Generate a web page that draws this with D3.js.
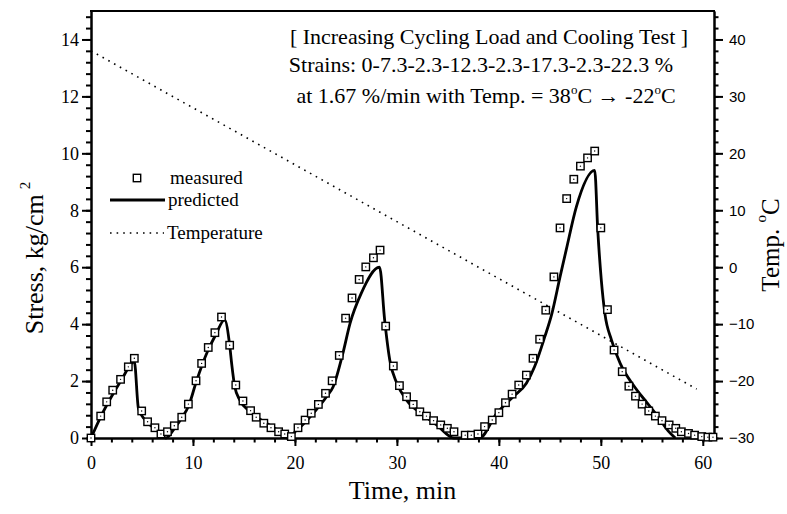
<!DOCTYPE html>
<html lang="en">
<head>
  <meta charset="UTF-8">
  <title>Increasing Cycling Load and Cooling Test</title>
  <style>
    body { margin: 0; background: #fff; }
    .axis path, .axis line { stroke: #000; stroke-width: 2px; }
    .axis .minor line { stroke-width: 1.8px; }
    .serif text { font-family: "Liberation Serif", "Times New Roman", serif; font-size: 18px; fill: #000; }
    .sans text { font-family: "Liberation Sans", Arial, sans-serif; font-size: 15px; fill: #000; }
    .label { font-family: "Liberation Serif", "Times New Roman", serif; fill: #000; }
  </style>
  <script src="https://d3js.org/d3.v7.min.js"></script>
</head>
<body>
<div id="chart"></div>
<script>
  // measured stress (open squares)
  var measTime = [0, 0.95, 1.54, 2.13, 2.9, 3.66, 4.25, 4.97, 5.55, 6.27, 6.86, 7.5, 8.17, 8.9, 9.55,
    10.3, 10.85, 11.5, 12.15, 12.8, 13.6, 14.2, 14.9, 15.65, 16.2, 16.95, 17.65, 18.4, 19.0, 19.65,
    20.3, 21.0, 21.6, 22.3, 23.0, 23.65, 24.35, 24.97, 25.6, 26.3, 26.95, 27.7, 28.35, 28.9, 29.65,
    30.25, 30.95, 31.6, 32.25, 32.9, 33.6, 34.3, 34.95, 35.6, 36.7, 37.3, 37.95, 38.6, 39.35, 40.0,
    40.65, 41.3, 41.95, 42.7, 43.35, 44.0, 44.6, 45.4, 46.0, 46.65, 47.35, 48.0, 48.7, 49.4, 50.0,
    50.65, 51.3, 52.1, 52.75, 53.4, 54.05, 54.7, 55.35, 56.0, 56.7, 57.35, 57.9, 58.6, 59.2, 59.9,
    60.5, 61.0];
  var measStress = [0, 0.77, 1.27, 1.68, 2.06, 2.5, 2.8, 0.95, 0.57, 0.36, 0.14, 0.22, 0.43, 0.73, 1.19,
    2.01, 2.62, 3.18, 3.7, 4.25, 3.26, 1.86, 1.3, 0.96, 0.73, 0.52, 0.36, 0.22, 0.14, 0.05,
    0.36, 0.63, 0.87, 1.18, 1.57, 2.01, 2.9, 4.21, 4.92, 5.57, 6.01, 6.33, 6.6, 3.93, 2.53,
    1.84, 1.45, 1.18, 0.92, 0.77, 0.61, 0.46, 0.34, 0.22, 0.1, 0.1, 0.14, 0.4, 0.63, 0.89,
    1.24, 1.54, 1.86, 2.21, 2.8, 3.47, 4.49, 5.66, 7.38, 8.41, 9.09, 9.55, 9.84, 10.08, 7.38,
    4.51, 3.09, 2.33, 1.82, 1.47, 1.19, 0.95, 0.77, 0.61, 0.46, 0.34, 0.22, 0.16, 0.1, 0.05,
    0.03, 0.03];

  // predicted stress (solid line)
  var predTime = [0, 1, 2, 3, 4.25, 4.65, 5.3, 6.45, 7.35, 8.2, 8.9, 9.6, 10.3, 11.5, 12.2, 13.1,
    13.6, 13.8, 14.1, 14.6, 15.6, 17.2, 18.5, 19.2, 20.2, 21.8, 23.1, 23.75, 24.7, 25.4, 26.5, 28.3,
    28.8, 29.3, 30.0, 30.95, 32.6, 33.9, 35.6, 38.1, 39.8, 41.4, 42.7, 43.5, 44.5, 45.2, 46.0, 46.6,
    47.6, 49.4, 49.7, 50.05, 50.4, 51.05, 51.9, 53.2, 54.5, 55.6, 56.6, 57.3];
  var predStress = [0, 0.78, 1.45, 2.05, 2.68, 1.04, 0.63, 0.28, 0, 0.35, 0.7, 1.15, 1.95, 3.1, 3.6, 4.15,
    3.26, 2.6, 1.8, 1.33, 0.92, 0.52, 0.22, 0, 0.28, 0.87, 1.45, 1.8, 2.97, 4.02, 5.08, 6.0,
    4.14, 2.74, 1.92, 1.33, 0.81, 0.46, 0, 0, 0.87, 1.45, 1.92, 2.5, 3.55, 4.37, 5.66, 6.6,
    8.12, 9.4, 7.3, 5.54, 4.37, 3.44, 2.62, 1.85, 1.25, 0.75, 0.25, 0];

  // temperature (dotted line, right axis)
  var tempTime = [0, 59.4];
  var tempVals = [38, -21.4];

  var xTicks = [0, 10, 20, 30, 40, 50, 60];
  var yTicks = [0, 2, 4, 6, 8, 10, 12, 14];
  var tTicks = [-30, -20, -10, 0, 10, 20, 30, 40];

  var width = 787, height = 514;
  var plotL = 91, plotR = 714, plotT = 11, plotB = 438;

  var svg = d3.select("#chart").append("svg")
    .attr("width", width)
    .attr("height", height);

  var x = d3.scaleLinear().domain([0, 61.1]).range([plotL, plotR]);
  var y = d3.scaleLinear().domain([0, 15]).range([plotB, plotT]);
  var yT = d3.scaleLinear().domain([-30, 45]).range([plotB, plotT]);

  // minor ticks first, majors on top
  svg.append("g").attr("class", "axis minor")
    .attr("transform", "translate(0," + plotB + ")")
    .call(d3.axisBottom(x).tickValues(d3.range(0, 61.1, 2)).tickSize(4.5).tickSizeOuter(0).tickFormat(""));
  svg.append("g").attr("class", "axis minor")
    .attr("transform", "translate(" + plotL + ",0)")
    .call(d3.axisLeft(y).tickValues(d3.range(0, 75, 2).map(d => d / 5)).tickSize(5).tickSizeOuter(0).tickFormat(""));
  svg.append("g").attr("class", "axis minor")
    .attr("transform", "translate(" + plotR + ",0)")
    .call(d3.axisRight(yT).tickValues(d3.range(-30, 45, 2)).tickSize(4.5).tickSizeOuter(0).tickFormat(""));

  svg.append("g").attr("class", "axis serif")
    .attr("transform", "translate(0," + plotB + ")")
    .call(d3.axisBottom(x).tickValues(xTicks).tickSize(8).tickSizeOuter(0).tickPadding(10));
  svg.append("g").attr("class", "axis serif")
    .attr("transform", "translate(" + plotL + ",0)")
    .call(d3.axisLeft(y).tickValues(yTicks).tickSize(9).tickSizeOuter(0).tickPadding(3));
  svg.append("g").attr("class", "axis sans")
    .attr("transform", "translate(" + plotR + ",0)")
    .call(d3.axisRight(yT).tickValues(tTicks).tickSize(9).tickSizeOuter(0).tickPadding(6));

  // top frame
  svg.append("line")
    .attr("x1", plotL - 1).attr("x2", plotR + 1)
    .attr("y1", plotT).attr("y2", plotT)
    .attr("stroke", "#000").attr("stroke-width", 2);

  // temperature
  var tempData = tempTime.map((t, i) => [t, tempVals[i]]);
  svg.append("path")
    .datum(tempData)
    .attr("fill", "none")
    .attr("stroke", "#000")
    .attr("stroke-width", 1.6)
    .attr("stroke-dasharray", "1.6,5")
    .attr("d", d3.line().x(d => x(d[0])).y(d => yT(d[1])));

  // predicted
  var predData = predTime.map((t, i) => [t, predStress[i]]);
  svg.append("path")
    .datum(predData)
    .attr("fill", "none")
    .attr("stroke", "#000")
    .attr("stroke-width", 2.8)
    .attr("stroke-linejoin", "round")
    .attr("d", d3.line().curve(d3.curveMonotoneX).x(d => x(d[0])).y(d => y(d[1])));

  // measured
  var measData = measTime.map((t, i) => [t, measStress[i]]);
  var pts = svg.append("g").selectAll("g")
    .data(measData)
    .enter().append("g")
    .attr("transform", d => "translate(" + x(d[0]) + "," + y(d[1]) + ")");
  pts.append("rect")
    .attr("x", -3.7).attr("y", -3.7)
    .attr("width", 7.4).attr("height", 7.4)
    .attr("fill", "#fff").attr("stroke", "#000").attr("stroke-width", 1.4);
  pts.append("circle").attr("r", 0.7).attr("fill", "#000");

  // legend
  var lg = svg.append("g");
  lg.append("rect")
    .attr("x", 133.3).attr("y", 174.3).attr("width", 7.4).attr("height", 7.4)
    .attr("fill", "#fff").attr("stroke", "#000").attr("stroke-width", 1.4);
  lg.append("text").attr("class", "label").attr("x", 170).attr("y", 184)
    .style("font-size", "19px").text("measured");
  lg.append("line").attr("x1", 110).attr("x2", 165).attr("y1", 200).attr("y2", 200)
    .attr("stroke", "#000").attr("stroke-width", 2.8);
  lg.append("text").attr("class", "label").attr("x", 168).attr("y", 206)
    .style("font-size", "19px").text("predicted");
  lg.append("line").attr("x1", 110).attr("x2", 164).attr("y1", 233).attr("y2", 233)
    .attr("stroke", "#000").attr("stroke-width", 1.6).attr("stroke-dasharray", "1.6,5");
  lg.append("text").attr("class", "label").attr("x", 167).attr("y", 239)
    .style("font-size", "19px").text("Temperature");

  // annotation
  var note = svg.append("g").attr("class", "label").style("font-size", "22px");
  note.append("text").attr("x", 489).attr("y", 44).attr("text-anchor", "middle")
    .text("[ Increasing Cycling Load and Cooling Test ]");
  note.append("text").attr("x", 481).attr("y", 72).attr("text-anchor", "middle")
    .text("Strains: 0-7.3-2.3-12.3-2.3-17.3-2.3-22.3 %");
  var l3 = note.append("text").attr("x", 486).attr("y", 103).attr("text-anchor", "middle");
  l3.append("tspan").text("at 1.67 %/min with Temp. = 38");
  l3.append("tspan").attr("dy", -9).style("font-size", "13px").text("o");
  l3.append("tspan").attr("dy", 9).text("C \u2192 -22");
  l3.append("tspan").attr("dy", -9).style("font-size", "13px").text("o");
  l3.append("tspan").attr("dy", 9).text("C");

  // axis titles
  svg.append("text").attr("class", "label")
    .attr("x", (plotL + plotR) / 2).attr("y", 499)
    .attr("text-anchor", "middle").style("font-size", "26px")
    .text("Time, min");

  var yl = svg.append("text").attr("class", "label")
    .attr("transform", "translate(43,258) rotate(-90)")
    .attr("text-anchor", "middle").style("font-size", "26px");
  yl.append("tspan").text("Stress, kg/cm");
  yl.append("tspan").attr("dy", -13).attr("dx", 5).style("font-size", "15px").text("2");

  var tl = svg.append("text").attr("class", "label")
    .attr("transform", "translate(779,245) rotate(-90)")
    .attr("text-anchor", "middle").style("font-size", "25px");
  tl.append("tspan").text("Temp.  ");
  tl.append("tspan").attr("dy", -13).style("font-size", "15px").text("o");
  tl.append("tspan").attr("dy", 13).text("C");
</script>
</body>
</html>
